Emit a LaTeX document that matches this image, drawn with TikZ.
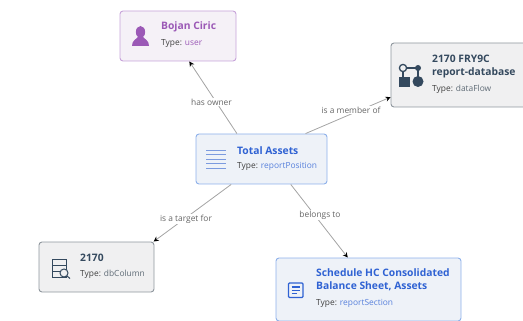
\documentclass[tikz,border=0pt]{standalone}
\usepackage{fontspec}
\setmainfont{Open Sans}
\usetikzlibrary{positioning,arrows.meta}
\definecolor{userc}{HTML}{9B59B6}
\definecolor{userfill}{HTML}{F5F1F7}
\definecolor{userline}{HTML}{C7A3D9}
\definecolor{posc}{HTML}{2F62D3}
\definecolor{posfill}{HTML}{EEF2F8}
\definecolor{posline}{HTML}{8DB0EA}
\definecolor{posicon}{HTML}{7C9BDF}
\definecolor{darkc}{HTML}{34495E}
\definecolor{greyfill}{HTML}{F0F0F1}
\definecolor{greyline}{HTML}{8F979E}
\definecolor{typec}{HTML}{5F6B76}
\definecolor{edgec}{HTML}{A3A3A3}
\definecolor{labelc}{HTML}{666666}

\begin{document}
\begin{tikzpicture}
        [x=1pt, y=-1pt,
        box/.style={draw, rounded corners=3pt, line width=0.9pt, inner sep=0pt},
        userbox/.style={box, draw=userline, fill=userfill},
        posbox/.style={box, draw=posline, fill=posfill},
        greybox/.style={box, draw=greyline, fill=greyfill},
        title/.style={anchor=west, inner sep=0pt, align=left, font=\fontsize{10.3}{13.5}\selectfont\bfseries},
        typeline/.style={anchor=west, inner sep=0pt, text=black!75, font=\fontsize{8.4}{10}\selectfont},
        edgelabel/.style={inner sep=1pt, fill=white, text=labelc, font=\fontsize{8.4}{10}\selectfont},
        edge/.style={draw=edgec, line width=0.8pt, -{Stealth[black, length=5pt, width=5pt]}}]
        \useasboundingbox (0,0) rectangle (523,321);
        \clip (0,0) rectangle (523,321);

        \node [posbox, minimum width=131pt, minimum height=50pt] (total) at (261.5,159) {};
        \node [userbox, minimum width=116pt, minimum height=50pt] (bojan) at (178,36) {};
        \node [greybox, minimum width=144pt, minimum height=64pt] (flow) at (463,75) {};
        \node [greybox, minimum width=115pt, minimum height=50pt] (column) at (96.5,267) {};
        \node [posbox, minimum width=185pt, minimum height=63pt] (section) at (368.5,289.5) {};

        % edges
        \draw [edge] (total.134) -- (bojan.-66);
        \draw [edge] (total.30) -- (flow.197);
        \draw [edge] (total.220) -- (column.24);
        \draw [edge] (total.-41) -- (section.123);
        \node [edgelabel] (owner) at (211.5,102) {has owner};
        \node [edgelabel] (member) at (351,110) {is a member of};
        \node [edgelabel] (target) at (186,219) {is a target for};
        \node [edgelabel] (belongs) at (320,215) {belongs to};

        % texts
        \node [title, text=posc] (totalname) at (237,150.5) {Total Assets};
        \node [typeline] (totaltype) at (237,166.5) {Type: \textcolor{posc!80}{reportPosition}};
        \node [title, text=userc] (bojanname) at (161,27) {Bojan Ciric};
        \node [typeline] (bojantype) at (161,43.5) {Type: \textcolor{userc}{user}};
        \node [title, text=darkc] (flowname) at (432,66.5) {2170 FRY9C\\report-database};
        \node [typeline] (flowtype) at (432,89) {Type: \textcolor{typec}{dataFlow}};
        \node [title, text=darkc] (columnname) at (80,258) {2170};
        \node [typeline] (columntype) at (80,274.5) {Type: \textcolor{typec}{dbColumn}};
        \node [title, text=posc] (sectionname) at (316,280) {Schedule HC Consolidated\\Balance Sheet, Assets};
        \node [typeline] (sectiontype) at (316,303) {Type: \textcolor{posc!80}{reportSection}};

        % icons
        \fill [userc] (140.5,32) ellipse (4.6 and 6);
        \fill [userc] (132,46) .. controls (132,40) and (136,40) .. (138,37) -- (143,37)
            .. controls (145,40) and (149,40) .. (149,46) -- cycle;
        \foreach \y in {150.7,155,159.4,163.8,168.2}
            \draw [posicon, line width=1pt] (206,\y) -- (226,\y);
        \begin{scope}[darkc]
            \draw [line width=1.3pt] (403,68) circle (3.6);
            \draw [line width=1.3pt] (406.6,68) -- (418,68) -- (418,80);
            \draw [line width=1.3pt] (403,71.6) -- (403,78);
            \fill (418,68) circle (3);
            \fill (399,77) rectangle (410,87);
            \fill (418,81.5) circle (5.5);
        \end{scope}
        \begin{scope}[darkc, line width=1pt]
            \draw (52.5,259) rectangle (66,277);
            \draw (52.5,265) -- (66,265);
            \draw (52.5,271) -- (66,271);
            \draw [fill=greyfill] (64,273) circle (4);
            \draw (66.8,275.8) -- (70,278.5);
        \end{scope}
        \begin{scope}[posc, line width=1.1pt]
            \draw [rounded corners=1pt] (288.5,283) rectangle (303,297.5);
            \draw (291.5,287) -- (300,287);
            \draw (291.5,290.3) -- (300,290.3);
            \draw (291.5,293.6) -- (297,293.6);
        \end{scope}
\end{tikzpicture}
\end{document}
